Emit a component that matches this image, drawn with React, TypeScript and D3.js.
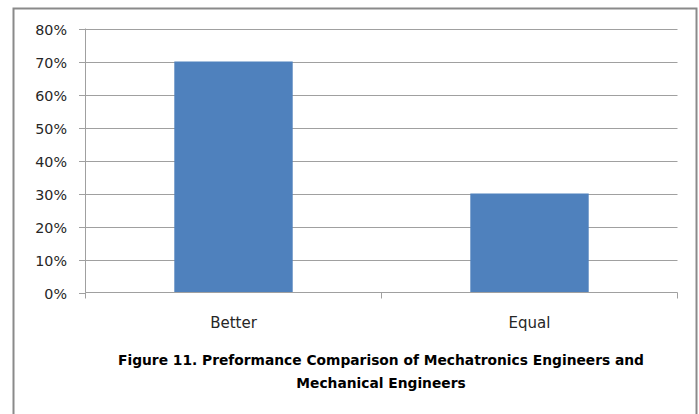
import React from "react";
import * as d3 from "d3";

const categories = ["Better", "Equal"];
const values = [0.7, 0.3];
const yTicks = [0, 0.1, 0.2, 0.3, 0.4, 0.5, 0.6, 0.7, 0.8];
const titleLines = [
  "Figure 11. Preformance Comparison of Mechatronics Engineers and",
  "Mechanical Engineers",
];

const W = 699;
const H = 414;
const left = 85.5;
const right = 677.5;
const top = 28.5;
const bottom = 292.5;

export default function App() {
  const x = d3.scaleBand<string>().domain(categories).range([left, right]).paddingInner(0.6).paddingOuter(0.3);
  const y = d3.scaleLinear().domain([0, 0.8]).range([bottom, top]);
  const step = (right - left) / categories.length;
  const font = "DejaVu Sans, sans-serif";
  const grid = "#a0a0a0";
  return (
    <svg width={W} height={H} style={{ position: "absolute", left: 0, top: 0, background: "#fff" }}>
      <rect x={13.5} y={8.5} width={683} height={420} fill="#fff" stroke="#8a8a8a" strokeWidth={2} />
      {yTicks.map((t) => (
        <g key={t}>
          {t > 0 && <line x1={left} x2={right} y1={Math.round(y(t)) + 0.5} y2={Math.round(y(t)) + 0.5} stroke={grid} strokeWidth={1} />}
          <line x1={79} x2={left} y1={Math.round(y(t)) + 0.5} y2={Math.round(y(t)) + 0.5} stroke={grid} />
          <text x={67} y={Math.round(y(t)) + 5.5} textAnchor="end" fontFamily={font} fontSize={14.3} fill="#262626">
            {d3.format(".0%")(t)}
          </text>
        </g>
      ))}
      {categories.map((c, i) => (
        <rect key={c} x={x(c)} y={y(values[i])} width={x.bandwidth()} height={bottom - y(values[i])} fill="#4f81bd" />
      ))}
      <line x1={left} x2={left} y1={top} y2={bottom} stroke={grid} />
      <line x1={left} x2={right} y1={bottom} y2={bottom} stroke={grid} />
      {d3.range(categories.length + 1).map((i) => (
        <line key={i} x1={left + i * step} x2={left + i * step} y1={bottom} y2={bottom + 6} stroke={grid} />
      ))}
      {categories.map((c) => (
        <text key={c} x={(x(c) as number) + x.bandwidth() / 2} y={328} textAnchor="middle" fontFamily={font} fontSize={15} fill="#262626">
          {c}
        </text>
      ))}
      {titleLines.map((l, i) => (
        <text key={i} x={381} y={365 + i * 23} textAnchor="middle" fontFamily={font} fontWeight="bold" fontSize={13.8} fill="#000">
          {l}
        </text>
      ))}
    </svg>
  );
}
